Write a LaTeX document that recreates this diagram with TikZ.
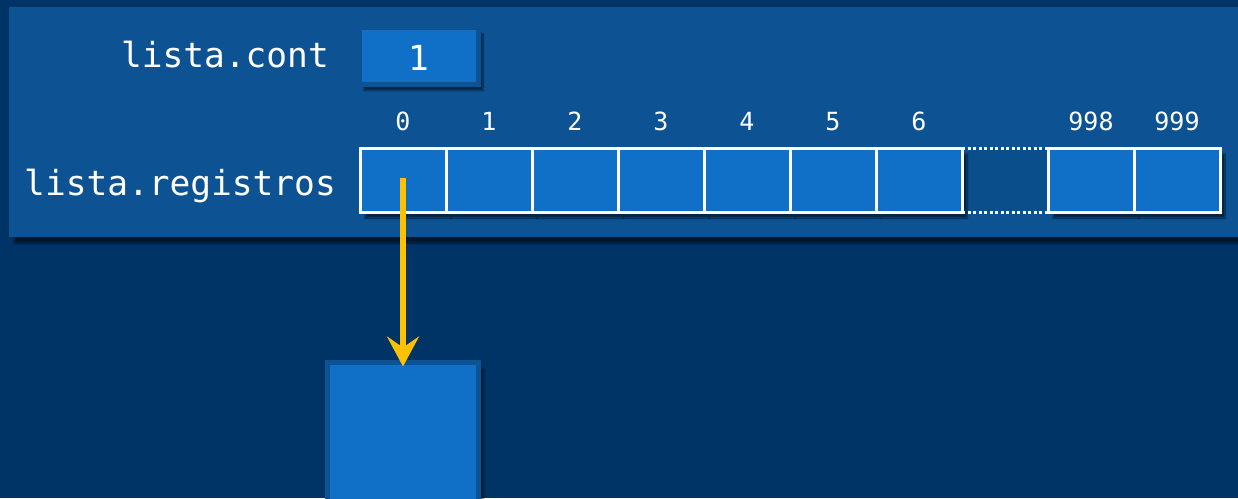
\documentclass[tikz,border=0pt]{standalone}
\usepackage{fontspec}
\setmonofont{DejaVu Sans Mono}
\usetikzlibrary{arrows.meta,shadows.blur}
\definecolor{bgcol}{RGB}{0,51,102}
\definecolor{panelcol}{RGB}{13,83,148}
\definecolor{cellcol}{RGB}{16,111,198}
\definecolor{gapcol}{RGB}{11,78,140}
\definecolor{arrowcol}{RGB}{255,192,0}
\tikzset{
  shad/.style={blur shadow={shadow xshift=5pt,shadow yshift=-6pt,shadow blur steps=8,shadow opacity=55}},
  cellbox/.style={draw=white,line width=3pt,fill=cellcol,minimum width=86pt,minimum height=64pt,inner sep=0pt,outer sep=0pt},
  recbox/.style={draw=panelcol,line width=5pt,fill=cellcol,inner sep=0pt,outer sep=0pt},
  lbl/.style={text=white,font=\ttfamily\fontsize{34.5}{38}\selectfont,inner sep=0pt},
  idx/.style={text=white,font=\ttfamily\fontsize{25}{28}\selectfont,inner sep=0pt,anchor=base},
  ptr/.style={draw=arrowcol,line width=6.5pt,-{Stealth[length=30pt,width=32pt,inset=11pt]}}
}
\begin{document}
\begin{tikzpicture}[x=1pt,y=-1pt]
\useasboundingbox (0,0) rectangle (1238,498);
\fill[bgcol] (0,0) rectangle (1238,498);
% panel
\fill[panelcol,shad] (9,7) rectangle (1250,237);
% labels
\node[lbl,anchor=base east] (lcont) at (329,67) {lista.cont};
\node[lbl,anchor=base east] (lreg) at (336,195) {lista.registros};
% count box
\node[recbox,shad,minimum width=119pt,minimum height=57pt] (cnt) at (418.5,56) {};
\node[lbl,anchor=base] (cntv) at (418.5,70) {1};
% gap
\fill[gapcol] (963,149) rectangle (1048,211);
% cells
\foreach \i in {0,...,6}{
  \node[cellbox,shad] (c\i) at (403+86*\i,180) {};
  \node[idx] (i\i) at (403+86*\i,130) {\i};
}
\node[cellbox,shad] (c998) at (1091,180) {};
\node[cellbox,shad] (c999) at (1177,180) {};
\foreach \i in {0,...,6}{\draw[white,line width=3pt] (c\i.north west) rectangle (c\i.south east);}
\draw[white,line width=3pt] (c998.north west) rectangle (c998.south east);
\draw[white,line width=3pt] (c999.north west) rectangle (c999.south east);
\node[idx] (i998) at (1091,130) {998};
\node[idx] (i999) at (1177,130) {999};
% dotted gap lines
\draw[white,line width=3pt,dash pattern=on 3pt off 2.5pt] (c6.north east) -- (c998.north west);
\draw[white,line width=3pt,dash pattern=on 3pt off 2.5pt] (c6.south east) -- (c998.south west);
% record box
\node[recbox,shad,minimum width=151pt,minimum height=160pt,anchor=north] (rec) at (403,362.5) {};
% pointer
\draw[ptr] (c0.center) ++(0,-2) -- ([yshift=-4pt]rec.north);
\end{tikzpicture}
\end{document}
